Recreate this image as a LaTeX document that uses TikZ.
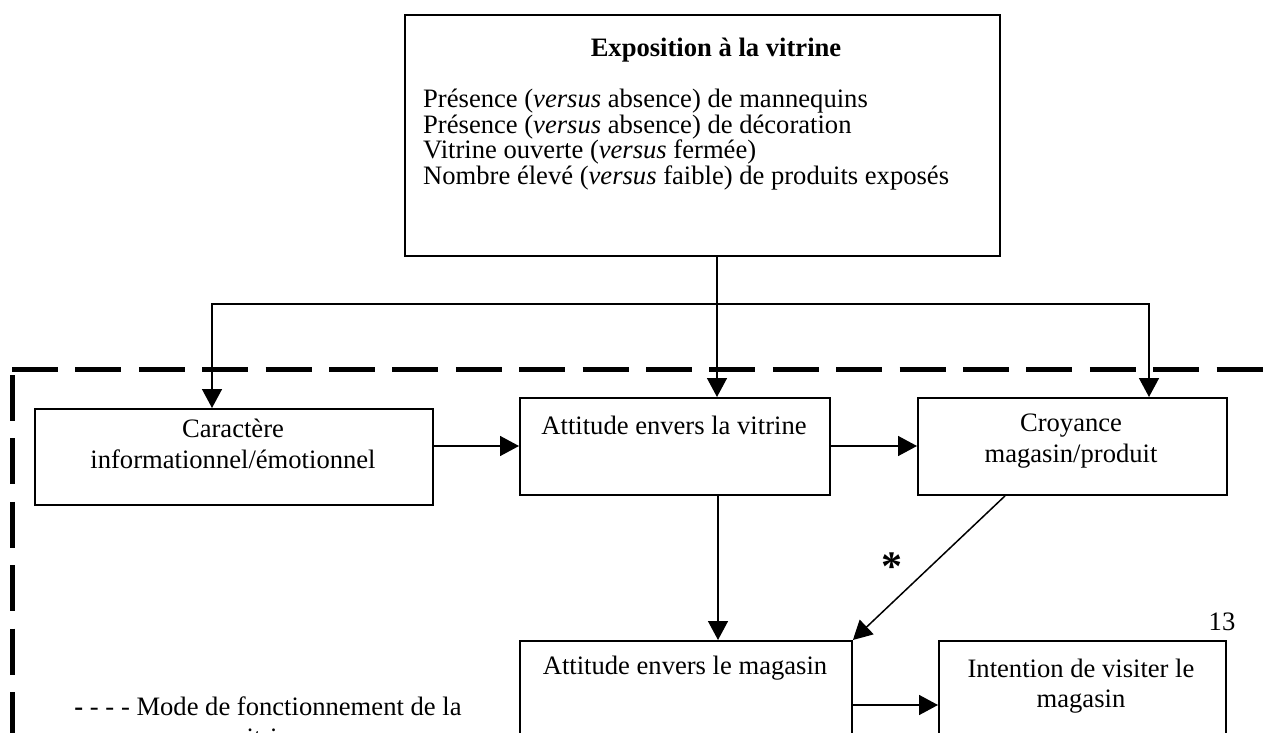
\documentclass[tikz,border=0pt]{standalone}
\usepackage{fontspec}
\setmainfont{Liberation Serif}
\usetikzlibrary{arrows.meta}
\begin{document}
\begin{tikzpicture}[x=1pt,y=-1pt,
  box/.style={draw, line width=1.9pt, inner sep=0pt, anchor=north west},
  txt/.style={font=\fontsize{26.6}{30.5}\selectfont, inner sep=0pt, align=center},
  arr/.style={line width=1.5pt, -{Triangle[length=19pt,width=20pt]}},
  frame/.style={line width=5pt, dash pattern=on 46pt off 17.4pt}]
\useasboundingbox (0,0) rectangle (1266,733);
\clip (0,0) rectangle (1266,733);
% boxes
\node[box, minimum width=595pt, minimum height=241pt] (expo) at (404,14) {};
\node[box, minimum width=398pt, minimum height=96pt] (car) at (34,408) {};
\node[box, minimum width=310pt, minimum height=97pt] (vit) at (519,397) {};
\node[box, minimum width=309pt, minimum height=97pt] (croy) at (917,397) {};
\node[box, minimum width=332pt, minimum height=150pt] (mag) at (519,640) {};
\node[box, minimum width=287pt, minimum height=150pt] (int) at (938,640) {};
% texts
\node[txt, font=\fontsize{26.6}{30.5}\selectfont\bfseries] (title) at (716,50) {Exposition à la vitrine};
\node[txt, anchor=north west, align=left, font=\fontsize{26.6}{25.5}\selectfont] (lst) at (423,89)
  {Présence (\textit{versus} absence) de mannequins\\
   Présence (\textit{versus} absence) de décoration\\
   Vitrine ouverte (\textit{versus} fermée)\\
   Nombre élevé (\textit{versus} faible) de produits exposés};
\node[txt] (cart) at (233,444) {Caractère\\informationnel/émotionnel};
\node[txt] (vitt) at (674,425) {Attitude envers la vitrine};
\node[txt] (croyt) at (1071,441) {Croyance\\magasin/produit};
\node[txt] (magt) at (685,668) {Attitude envers le magasin};
\node[txt] (intt) at (1081,686) {Intention de visiter le\\magasin};
\node[txt, anchor=base, font=\fontsize{42}{44}\selectfont\bfseries] (star) at (892,580) {*};
\node[txt] (pg) at (1222,622) {13};
\node[txt] (leg) at (268,722) {{\bfseries -} - - - Mode de fonctionnement de la\\vitrine};
% connectors
\coordinate (jx) at (717,304);
\coordinate (lx) at (212,304);
\coordinate (rx) at (1149,304);
\coordinate (ay) at (0,446);
\coordinate (vx) at (718,0);
\coordinate (dx) at (1005,0);
\coordinate (my) at (0,705);
\draw[arr] (expo.south -| jx) -- (vit.north -| jx);
\draw[arr] (jx) -| (car.north -| lx);
\draw[arr] (jx) -| (croy.north -| rx);
\draw[arr] (car.east |- ay) -- (vit.west |- ay);
\draw[arr] (vit.east |- ay) -- (croy.west |- ay);
\draw[arr] (vit.south -| vx) -- (mag.north -| vx);
\draw[arr] (croy.south -| dx) -- (mag.north east);
\draw[arr] (mag.east |- my) -- (int.west |- my);
% frame
\coordinate (f0) at (12,369);
\coordinate (f1) at (1300,369);
\coordinate (f2) at (12,375);
\coordinate (f3) at (12,760);
\draw[frame] (f0) -- (f1);
\draw[frame] (f2) -- (f3);
\end{tikzpicture}
\end{document}
